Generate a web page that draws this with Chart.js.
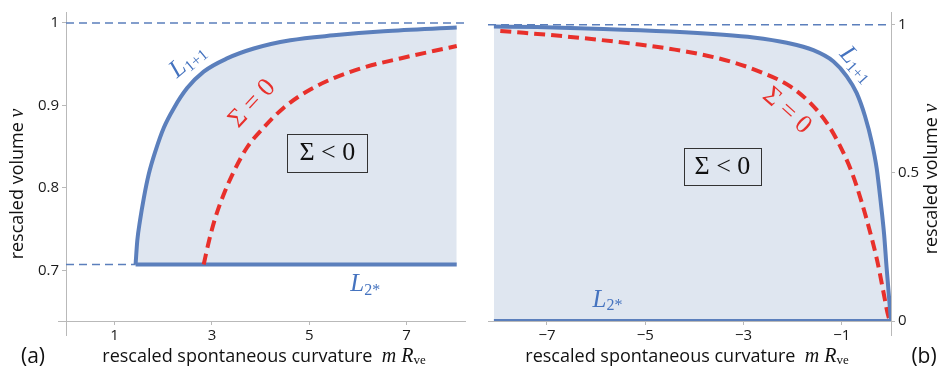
<!DOCTYPE html>
<html>
<head>
<meta charset="utf-8">
<script src="https://cdn.jsdelivr.net/npm/chart.js@4"></script>
<style>
  body { margin: 0; background: #fff; }
  #wrap { position: relative; width: 940px; height: 373px; }
  canvas { position: absolute; top: 0; }
  #chartA { left: 0; }
  #chartB { left: 470px; }
</style>
</head>
<body>
<div id="wrap">
  <canvas id="chartA" width="470" height="373"></canvas>
  <canvas id="chartB" width="470" height="373"></canvas>
</div>
<script>
// ---- panel (a): m R_ve > 0 ----
const aL11X = [1.43, 1.465, 1.52, 1.60, 1.70, 1.84, 2.01, 2.22, 2.49, 2.83, 3.31, 3.86, 4.61, 5.50, 6.53, 8.03];
const aL11V = [0.7071, 0.736, 0.760, 0.788, 0.8165, 0.845, 0.873, 0.897, 0.921, 0.941, 0.957, 0.969, 0.979, 0.985, 0.990, 0.9944];
const aSigmaX = [2.83, 2.94, 3.07, 3.24, 3.45, 3.72, 4.06, 4.47, 4.95, 5.50, 6.18, 6.87, 7.55, 8.03];
const aSigmaV = [0.7071, 0.736, 0.764, 0.792, 0.820, 0.849, 0.873, 0.897, 0.917, 0.933, 0.947, 0.957, 0.966, 0.972];
const aL2X = [1.43, 8.03];
const aL2V = [0.7071, 0.7071];
const aTopX = [0, 8.2];
const aTopV = [1, 1];
const aLowX = [0, 1.43];
const aLowV = [0.7071, 0.7071];
const aTickX = [1, 3, 5, 7];
const aTickXLabels = ['1', '3', '5', '7'];
const aTickV = [0.7, 0.8, 0.9, 1];
const aTickVLabels = ['0.7', '0.8', '0.9', '1'];

// ---- panel (b): m R_ve < 0 ----
const bL11X = [-8.08, -7.20, -5.85, -4.49, -3.48, -2.80, -2.12, -1.58, -1.17, -0.90, -0.70, -0.53, -0.39, -0.29, -0.21, -0.14, -0.09, 0];
const bL11V = [0.994, 0.992, 0.986, 0.977, 0.967, 0.957, 0.939, 0.914, 0.876, 0.826, 0.770, 0.692, 0.603, 0.514, 0.403, 0.292, 0.181, 0];
const bSigmaX = [-7.95, -6.52, -5.17, -4.15, -3.27, -2.60, -2.05, -1.65, -1.31, -1.04, -0.80, -0.60, -0.43, -0.28, -0.16, -0.05, 0];
const bSigmaV = [0.979, 0.959, 0.934, 0.909, 0.876, 0.837, 0.792, 0.737, 0.670, 0.592, 0.503, 0.403, 0.303, 0.203, 0.103, 0.014, 0];
const bL2X = [-8.08, 0];
const bL2V = [0, 0];
const bTopX = [-8.2, 0];
const bTopV = [1, 1];
const bTickX = [-7, -5, -3, -1];
const bTickXLabels = ['\u22127', '\u22125', '\u22123', '\u22121'];
const bTickV = [0, 0.5, 1];
const bTickVLabels = ['0', '0.5', '1'];

const BLUE = '#5b7fbc';
const LABEL_BLUE = '#4573bf';
const FILL = '#dfe6f0';
const RED = '#e8302b';
const AXIS = '#b9b9b9';
const SANS = '"Open Sans", "Noto Sans", sans-serif';
const SERIF = '"Liberation Serif", "DejaVu Serif", serif';

const pts = (xs, vs) => xs.map((x, i) => ({ x: x, y: vs[i] }));

function curve(xs, vs, color, extra) {
  return Object.assign({
    data: pts(xs, vs),
    showLine: true,
    borderColor: color,
    borderWidth: 4,
    pointRadius: 0,
    fill: false,
    cubicInterpolationMode: 'monotone'
  }, extra || {});
}

// draw a run of differently styled text pieces centred on (x, y)
function drawRich(ctx, x, y, parts, angle) {
  ctx.save();
  ctx.translate(x, y);
  ctx.rotate((angle || 0) * Math.PI / 180);
  ctx.textBaseline = 'middle';
  ctx.textAlign = 'left';
  let total = 0;
  parts.forEach(p => { ctx.font = p.font; total += ctx.measureText(p.text).width; });
  let cx = -total / 2;
  parts.forEach(p => {
    ctx.font = p.font;
    ctx.fillStyle = p.color || '#111';
    ctx.fillText(p.text, cx, p.dy || 0);
    cx += ctx.measureText(p.text).width;
  });
  ctx.restore();
}

function lLabel(sub) {
  return [
    { text: 'L', font: 'italic 25px ' + SERIF, color: LABEL_BLUE },
    { text: sub, font: '16px ' + SERIF, color: LABEL_BLUE, dy: 6 }
  ];
}

function xTitle() {
  return [
    { text: 'rescaled spontaneous curvature  ', font: '18px ' + SANS },
    { text: 'm', font: 'italic 20px ' + SERIF },
    { text: ' R', font: 'italic 20px ' + SERIF },
    { text: 've', font: '13px ' + SERIF, dy: 4 }
  ];
}

function yTitle() {
  return [
    { text: 'rescaled volume ', font: '18px ' + SANS },
    { text: 'v', font: 'italic 20px ' + SERIF }
  ];
}

// text overlays: notes sit at data coordinates, titles at canvas coordinates
function overlayPlugin(cfg) {
  return {
    id: 'overlay',
    afterDraw(chart) {
      const ctx = chart.ctx;
      const xs = chart.scales.x, ys = chart.scales.y;
      const area = chart.chartArea;

      // axis extensions past the crossing point
      ctx.save();
      ctx.strokeStyle = AXIS;
      ctx.lineWidth = 1;
      ctx.beginPath();
      const ax = cfg.axisAt === 'left' ? area.left : area.right;
      ctx.moveTo(ax + 0.5, area.bottom);
      ctx.lineTo(ax + 0.5, area.bottom + 15);
      if (cfg.axisAt === 'left') {
        ctx.moveTo(area.left - 8, area.bottom + 0.5);
        ctx.lineTo(area.left, area.bottom + 0.5);
      }
      ctx.stroke();
      ctx.restore();

      cfg.notes.forEach(n => {
        const px = xs.getPixelForValue(n.x);
        const py = ys.getPixelForValue(n.v);
        if (n.box) {
          ctx.save();
          ctx.fillStyle = FILL;
          ctx.strokeStyle = '#333';
          ctx.lineWidth = 1;
          ctx.fillRect(px - n.w / 2, py - n.h / 2, n.w, n.h);
          ctx.strokeRect(Math.round(px - n.w / 2) + 0.5, Math.round(py - n.h / 2) + 0.5, n.w, n.h);
          ctx.restore();
        }
        drawRich(ctx, px, py, n.parts, n.angle);
      });

      cfg.titles.forEach(t => drawRich(ctx, t.x, t.y, t.parts, t.angle));
    }
  };
}

function makeChart(id, datasets, sc, cfg) {
  const tickFont = { family: SANS, size: 15 };
  return new Chart(document.getElementById(id), {
    type: 'scatter',
    data: { datasets: datasets },
    options: {
      responsive: false,
      animation: false,
      layout: { padding: sc.padding },
      plugins: {
        legend: { display: false },
        tooltip: { enabled: false },
        filler: { drawTime: 'beforeDatasetsDraw' }
      },
      scales: {
        x: {
          type: 'linear',
          min: sc.xMin, max: sc.xMax,
          border: { display: true, color: AXIS },
          grid: { display: true, drawOnChartArea: false, tickLength: 4, color: AXIS },
          afterBuildTicks: s => { s.ticks = sc.xTicks.map(v => ({ value: v })); },
          afterFit: s => { s.height = 52; },
          ticks: {
            font: tickFont, color: '#1a1a1a', padding: 2, maxRotation: 0,
            callback: (v) => sc.xLabels[sc.xTicks.indexOf(v)]
          }
        },
        y: {
          type: 'linear',
          position: sc.yPos,
          min: sc.yMin, max: sc.yMax,
          border: { display: true, color: AXIS },
          grid: { display: true, drawOnChartArea: false, tickLength: 4, color: AXIS },
          afterBuildTicks: s => { s.ticks = sc.yTicks.map(v => ({ value: v })); },
          afterFit: s => { s.width = sc.yWidth; },
          ticks: {
            font: tickFont, color: '#1a1a1a', padding: 3,
            callback: (v) => sc.yLabels[sc.yTicks.indexOf(v)]
          }
        }
      }
    },
    plugins: [overlayPlugin(cfg)]
  });
}

// panel (a)
makeChart('chartA', [
  curve(aL11X, aL11V, BLUE, { fill: { value: 0.7071 }, backgroundColor: FILL }),
  curve(aSigmaX, aSigmaV, RED, { borderDash: [11, 6] }),
  curve(aL2X, aL2V, BLUE),
  curve(aTopX, aTopV, BLUE, { borderWidth: 1.5, borderDash: [8, 5] }),
  curve(aLowX, aLowV, BLUE, { borderWidth: 1.5, borderDash: [8, 5] })
], {
  padding: { left: 0, top: 10, right: 5, bottom: 0 },
  xMin: 0, xMax: 8.2, yMin: 0.6386, yMax: 1.0133, yPos: 'left', yWidth: 66,
  xTicks: aTickX, xLabels: aTickXLabels, yTicks: aTickV, yLabels: aTickVLabels
}, {
  axisAt: 'left',
  notes: [
    { x: 2.50, v: 0.954, angle: -40, parts: lLabel('1+1') },
    { x: 3.83, v: 0.902, angle: -47, parts: [{ text: '\u03A3 = 0', font: '26px ' + SERIF, color: RED }] },
    { x: 5.37, v: 0.842, box: true, w: 80, h: 38, parts: [{ text: '\u03A3 < 0', font: '26px ' + SERIF, color: '#111' }] },
    { x: 6.15, v: 0.683, parts: lLabel('2*') }
  ],
  titles: [
    { x: 18, y: 184, angle: -90, parts: yTitle() },
    { x: 264, y: 357, parts: xTitle() },
    { x: 33, y: 357, parts: [{ text: '(a)', font: '21px ' + SANS }] }
  ]
});

// panel (b)
makeChart('chartB', [
  curve(bL11X, bL11V, BLUE, { fill: { value: 0 }, backgroundColor: FILL }),
  curve(bSigmaX, bSigmaV, RED, { borderDash: [11, 6] }),
  curve(bL2X, bL2V, BLUE),
  curve(bTopX, bTopV, BLUE, { borderWidth: 1.5, borderDash: [8, 5] })
], {
  padding: { left: 18, top: 8, right: 0, bottom: 0 },
  xMin: -8.2, xMax: 0, yMin: 0, yMax: 1.043, yPos: 'right', yWidth: 49,
  xTicks: bTickX, xLabels: bTickXLabels, yTicks: bTickV, yLabels: bTickVLabels
}, {
  axisAt: 'right',
  notes: [
    { x: -0.70, v: 0.866, angle: 48, parts: lLabel('1+1') },
    { x: -2.12, v: 0.709, angle: 42, parts: [{ text: '\u03A3 = 0', font: '26px ' + SERIF, color: RED }] },
    { x: -3.43, v: 0.52, box: true, w: 77, h: 37, parts: [{ text: '\u03A3 < 0', font: '26px ' + SERIF, color: '#111' }] },
    { x: -5.77, v: 0.07, parts: lLabel('2*') }
  ],
  titles: [
    { x: 462, y: 179, angle: -90, parts: yTitle() },
    { x: 217, y: 357, parts: xTitle() },
    { x: 454, y: 357, parts: [{ text: '(b)', font: '21px ' + SANS }] }
  ]
});
</script>
</body>
</html>
